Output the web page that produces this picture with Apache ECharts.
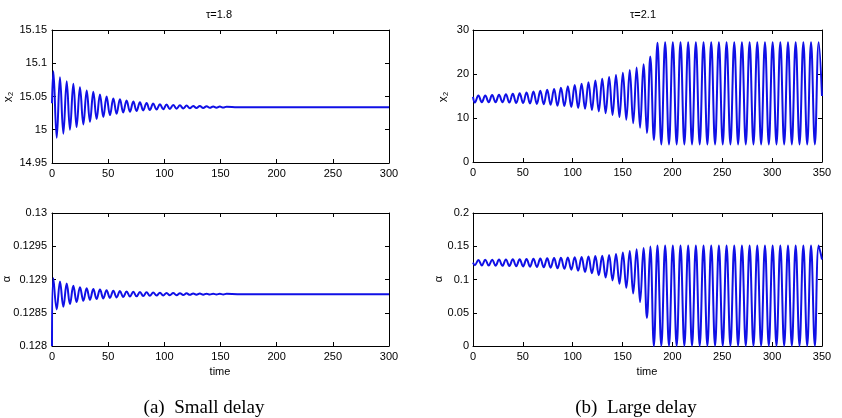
<!DOCTYPE html>
<html>
<head>
<meta charset="utf-8">
<script src="https://cdn.jsdelivr.net/npm/echarts@6/dist/echarts.min.js"></script>
<style>
  html, body { margin: 0; padding: 0; background: #fff; }
  #chart { width: 842px; height: 418px; }
</style>
</head>
<body>
<div id="chart"></div>
<script>
// ---- (a) small delay, tau = 1.8 : extremes ----
const aPeakT = [1.2, 7.1, 13.1, 19.0, 24.9, 30.9, 36.8, 42.7, 48.6, 54.6, 60.5, 66.4, 72.4, 78.3, 84.2, 90.1, 96.1, 102.0, 107.9, 113.9, 119.8, 125.7, 131.6, 137.6, 143.5, 149.4, 155.4]
const aTroughT = [4.2, 10.1, 16.0, 21.9, 27.9, 33.8, 39.7, 45.7, 51.6, 57.5, 63.4, 69.4, 75.3, 81.2, 87.1, 93.1, 99.0, 104.9, 110.9, 116.8, 122.7, 128.6, 134.6, 140.5, 146.4, 152.4]
const aX2Peak = [15.088, 15.079, 15.073, 15.069, 15.064, 15.059, 15.057, 15.053, 15.050, 15.047, 15.046, 15.044, 15.0425, 15.0412, 15.0402, 15.0393, 15.0385, 15.0378, 15.0372, 15.0367, 15.0363, 15.0359, 15.0356, 15.0353, 15.0351, 15.0349, 15.0347]
const aX2Trough = [14.988, 14.994, 15.000, 15.004, 15.008, 15.012, 15.016, 15.019, 15.022, 15.024, 15.026, 15.0272, 15.0282, 15.029, 15.0297, 15.0303, 15.0308, 15.0313, 15.0317, 15.032, 15.0323, 15.0326, 15.0328, 15.033, 15.0332, 15.0334]
const aX2Ends = [[0, 15.04], [165, 15.034], [300, 15.034]]
const aAlphaPeak = [0.12902, 0.12897, 0.12894, 0.128905, 0.128885, 0.12887, 0.128858, 0.128848, 0.12884, 0.128832, 0.128826, 0.12882, 0.128815, 0.128811, 0.128807, 0.128804, 0.128801, 0.128798, 0.128796, 0.128794, 0.128792, 0.12879, 0.1287885, 0.128787, 0.128786, 0.128785, 0.128784]
const aAlphaTrough = [0.12855, 0.12859, 0.12863, 0.12866, 0.12868, 0.128695, 0.128706, 0.128716, 0.128724, 0.128731, 0.128737, 0.128743, 0.128747, 0.128751, 0.128755, 0.128758, 0.128761, 0.128763, 0.128765, 0.128767, 0.128769, 0.128771, 0.1287725, 0.1287735, 0.1287745, 0.1287755]
const aAlphaEnds = [[0, 0.128], [165, 0.12878], [300, 0.12878]]

// ---- (b) large delay, tau = 2.1 ----
const bPeakT = [5.4, 12.3, 19.2, 26.1, 33.0, 39.9, 46.8, 53.7, 60.6, 67.5, 74.4, 81.3, 88.2, 95.1, 102.0, 108.9, 115.8, 122.7, 129.6, 136.5, 143.4, 150.3, 157.2, 164.1, 171.0, 177.8, 185.0, 192.7, 200.4, 208.1, 215.8, 223.5, 231.2, 238.9, 246.6, 254.3, 262.0, 269.7, 277.4, 285.1, 292.8, 300.5, 308.2, 315.9, 323.6, 331.3, 339.0, 346.7]
const bTroughT = [1.9, 8.85, 15.75, 22.65, 29.55, 36.45, 43.35, 50.25, 57.15, 64.05, 70.95, 77.85, 84.75, 91.65, 98.55, 105.45, 112.35, 119.25, 126.15, 133.05, 139.95, 146.85, 153.75, 160.65, 167.55, 174.4, 181.4, 188.85, 196.55, 204.25, 211.95, 219.65, 227.35, 235.05, 242.75, 250.45, 258.15, 265.85, 273.55, 281.25, 288.95, 296.65, 304.35, 312.05, 319.75, 327.45, 335.15, 342.85]
const bX2Peak = [15.1, 15.1, 15.2, 15.3, 15.4, 15.5, 15.6, 15.8, 16.0, 16.2, 16.4, 16.6, 16.9, 17.2, 17.5, 17.8, 18.1, 18.5, 18.9, 19.3, 19.8, 20.3, 20.9, 21.5, 22.2, 24.0, 27.1, 27.2, 27.2, 27.2, 27.2, 27.2, 27.2, 27.2, 27.2, 27.2, 27.2, 27.2, 27.2, 27.2, 27.2, 27.2, 27.2, 27.2, 27.2, 27.2, 27.2, 27.2]
const bX2Trough = [13.5, 13.6, 13.6, 13.6, 13.6, 13.5, 13.4, 13.4, 13.3, 13.2, 13.1, 13.0, 12.8, 12.7, 12.5, 12.3, 12.1, 11.8, 11.5, 11.1, 10.7, 10.2, 9.6, 8.8, 7.8, 6.6, 5.0, 4.0, 4.0, 4.0, 4.0, 4.0, 4.0, 4.0, 4.0, 4.0, 4.0, 4.0, 4.0, 4.0, 4.0, 4.0, 4.0, 4.0, 4.0, 4.0, 4.0, 4.0]
const bX2Ends = [[0, 14.8], [350, 15.0]]
const bAlphaPeak = [0.1295, 0.1297, 0.1298, 0.1300, 0.1302, 0.1304, 0.1306, 0.1309, 0.1312, 0.1315, 0.1318, 0.1322, 0.1326, 0.1330, 0.1335, 0.1340, 0.1346, 0.1352, 0.1359, 0.1367, 0.1385, 0.1405, 0.1430, 0.1455, 0.1475, 0.1495, 0.151, 0.151, 0.151, 0.151, 0.151, 0.151, 0.151, 0.151, 0.151, 0.151, 0.151, 0.151, 0.151, 0.151, 0.151, 0.151, 0.151, 0.151, 0.151, 0.151, 0.151, 0.151]
const bAlphaTrough = [0.1215, 0.1212, 0.1210, 0.1208, 0.1206, 0.1203, 0.1200, 0.1197, 0.1193, 0.1189, 0.1184, 0.1178, 0.1170, 0.1160, 0.1148, 0.1133, 0.1115, 0.1093, 0.1065, 0.1030, 0.0985, 0.0935, 0.0875, 0.0790, 0.0660, 0.0420, 0, 0, 0, 0, 0, 0, 0, 0, 0, 0, 0, 0, 0, 0, 0, 0, 0, 0, 0, 0, 0, 0]
const bAlphaEnds = [[0, 0.1255], [350, 0.13]]

// axis ticks
const aTimeTicks = { min: 0, max: 300, interval: 50 }
const bTimeTicks = { min: 0, max: 350, interval: 50 }
const aX2Ticks = { min: 14.95, max: 15.15, interval: 0.05 }
const aAlphaTicks = { min: 0.128, max: 0.13, interval: 0.0005 }
const bX2Ticks = { min: 0, max: 30, interval: 10 }
const bAlphaTicks = { min: 0, max: 0.2, interval: 0.05 }

const FONT = 'Liberation Sans, Arial, Helvetica, sans-serif'
const SERIF = 'Liberation Serif, Times New Roman, serif'
const BLUE = '#1010e6'

const build = (pt, pv, tt, tv, ends) => {
  const pts = []
  pt.forEach((t, i) => pts.push([t, pv[i]]))
  tt.forEach((t, i) => pts.push([t, tv[i]]))
  ends.forEach(p => pts.push(p))
  return pts.sort((a, b) => a[0] - b[0])
}

const grids = [
  { left: 52, top: 30, width: 337, height: 133 },
  { left: 52, top: 213, width: 337, height: 133 },
  { left: 473, top: 30, width: 349, height: 132 },
  { left: 473, top: 213, width: 349, height: 133 },
]
const timeTicks = [aTimeTicks, aTimeTicks, bTimeTicks, bTimeTicks]
const valTicks = [aX2Ticks, aAlphaTicks, bX2Ticks, bAlphaTicks]

const lineStyle = { color: '#000', width: 1 }
const fmt = v => String(+v.toFixed(4))

const xAxis = []
const yAxis = []
grids.forEach((g, i) => {
  xAxis.push({
    type: 'value', gridIndex: i, position: 'bottom', ...timeTicks[i],
    axisLine: { show: true, onZero: false, lineStyle },
    axisTick: { show: true, inside: true, length: 4, lineStyle },
    axisLabel: { color: '#000', fontSize: 11, fontFamily: FONT, margin: 5 },
    splitLine: { show: false },
  })
  xAxis.push({
    type: 'value', gridIndex: i, position: 'top', ...timeTicks[i],
    axisLine: { show: true, onZero: false, lineStyle },
    axisTick: { show: true, inside: true, length: 4, lineStyle },
    axisLabel: { show: false },
    splitLine: { show: false },
  })
  yAxis.push({
    type: 'value', gridIndex: i, position: 'left', ...valTicks[i],
    axisLine: { show: true, onZero: false, lineStyle },
    axisTick: { show: true, inside: true, length: 4, lineStyle },
    axisLabel: { color: '#000', fontSize: 11, fontFamily: FONT, margin: i < 2 ? 5 : 4, formatter: fmt },
    splitLine: { show: false },
  })
  yAxis.push({
    type: 'value', gridIndex: i, position: 'right', ...valTicks[i],
    axisLine: { show: true, onZero: false, lineStyle },
    axisTick: { show: true, inside: true, length: 4, lineStyle },
    axisLabel: { show: false },
    splitLine: { show: false },
  })
})

const seriesData = [
  build(aPeakT, aX2Peak, aTroughT, aX2Trough, aX2Ends),
  build(aPeakT, aAlphaPeak, aTroughT, aAlphaTrough, aAlphaEnds),
  build(bPeakT, bX2Peak, bTroughT, bX2Trough, bX2Ends),
  build(bPeakT, bAlphaPeak, bTroughT, bAlphaTrough, bAlphaEnds),
]

const series = seriesData.map((d, i) => ({
  type: 'line',
  xAxisIndex: i * 2,
  yAxisIndex: i * 2,
  data: d,
  smooth: 0.4,
  showSymbol: false,
  lineStyle: { color: BLUE, width: 2 },
}))

const txt = (text, x, y, font, extra) => ({
  type: 'text', x, y, ...extra,
  style: { text, font, fill: '#000', align: 'center', verticalAlign: 'middle' },
})
const rot = { rotation: Math.PI / 2 }

const graphic = [
  txt('τ=1.8', 219, 15, '11px ' + FONT),
  txt('τ=2.1', 643, 15, '11px ' + FONT),
  txt('x₂', 9, 97, '12px ' + FONT, rot),
  txt('x₂', 444, 97, '12px ' + FONT, rot),
  txt('α', 7, 279, '11px ' + FONT, rot),
  txt('α', 439, 279, '11px ' + FONT, rot),
  txt('time', 220, 372, '11px ' + FONT),
  txt('time', 647, 372, '11px ' + FONT),
  txt('(a)  Small delay', 204, 408, '19px ' + SERIF),
  txt('(b)  Large delay', 636, 408, '19px ' + SERIF),
]

const chart = echarts.init(document.getElementById('chart'))
chart.setOption({
  animation: false,
  backgroundColor: '#fff',
  grid: grids,
  xAxis,
  yAxis,
  series,
  graphic,
})
</script>
</body>
</html>
